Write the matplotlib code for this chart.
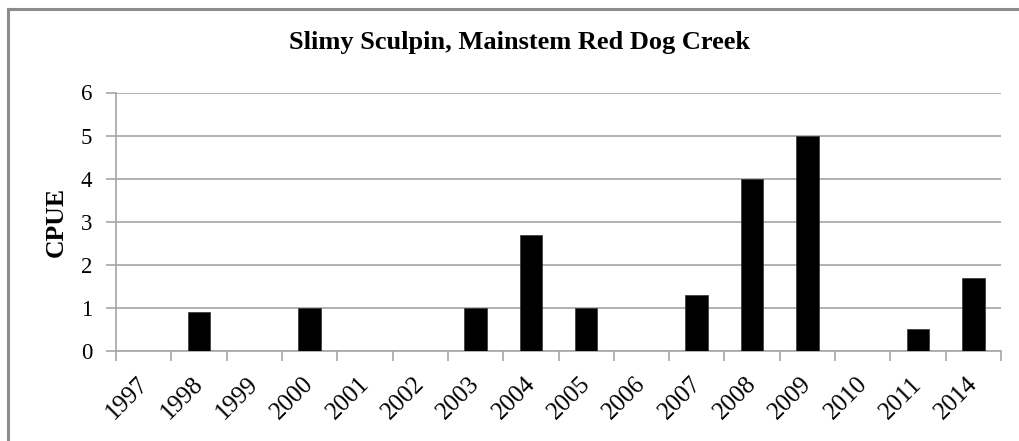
import matplotlib
matplotlib.use("Agg")
import matplotlib.pyplot as plt
import matplotlib.transforms as mtransforms
from matplotlib.lines import Line2D

years = ["1997", "1998", "1999", "2000", "2001", "2002", "2003", "2004",
         "2005", "2006", "2007", "2008", "2009", "2010", "2011", "2014"]
cpue = [0, 0.9, 0, 1.0, 0, 0, 1.0, 2.7, 1.0, 0, 1.3, 4.0, 5.0, 0, 0.5, 1.7]
yticks = [0, 1, 2, 3, 4, 5, 6]

plt.rcParams['font.family'] = ['Liberation Serif', 'DejaVu Serif']

W, H = 1019, 441
fig = plt.figure(figsize=(W / 100, H / 100), dpi=100)
ax = fig.add_axes([116 / W, 1 - 351 / H, (1001 - 116) / W, (351 - 92.5) / H])

grey = '#a6a6a6'
x = list(range(len(years)))
ax.bar(x, cpue, width=0.41, color='black', edgecolor='#333333', linewidth=0.5, zorder=3)

ax.set_xlim(-0.5, len(years) - 0.5)
ax.set_ylim(0, 6)
ax.set_yticks(yticks)
ax.set_yticklabels([str(v) for v in yticks], fontsize=16.5)
ax.yaxis.grid(True, color=grey, linewidth=1.2, zorder=0)
ax.set_axisbelow(True)

# category boundary ticks, labels at category centres
ax.set_xticks([i - 0.5 for i in range(len(years) + 1)])
ax.set_xticklabels([])
lab_trans = ax.get_xaxis_transform() + mtransforms.ScaledTranslation(
    -7 / 100, -22 / 100, fig.dpi_scale_trans)
for xi, yr in zip(x, years):
    ax.text(xi, 0, yr, transform=lab_trans, rotation=45, ha='right', va='top',
            rotation_mode='anchor', fontsize=18, clip_on=False)

ax.tick_params(axis='x', length=7, width=1.2, color=grey, direction='out')
ax.tick_params(axis='y', length=7, width=1.2, color=grey, direction='out', pad=10)

for s in ['top', 'right']:
    ax.spines[s].set_visible(False)
for s in ['left', 'bottom']:
    ax.spines[s].set_color(grey)
    ax.spines[s].set_linewidth(1.2)

ax.set_ylabel('CPUE', fontsize=18.5, fontweight='bold')
ax.yaxis.set_label_coords(-0.054, 0.5)
fig.text(520 / W, 1 - 42 / H, 'Slimy Sculpin, Mainstem Red Dog Creek',
         ha='center', va='center', fontsize=19, fontweight='bold')

# outer chart border (only left and top edges fall inside the image)
bx, by = 7.5 / W, 1 - 8.5 / H
fig.lines.append(Line2D([bx, bx], [-0.05, by], transform=fig.transFigure,
                        color='#8c8c8c', linewidth=2.2, solid_capstyle='projecting'))
fig.lines.append(Line2D([bx, 1.05], [by, by], transform=fig.transFigure,
                        color='#8c8c8c', linewidth=2.2, solid_capstyle='projecting'))

fig.savefig('out.png', dpi=100, facecolor='white')
